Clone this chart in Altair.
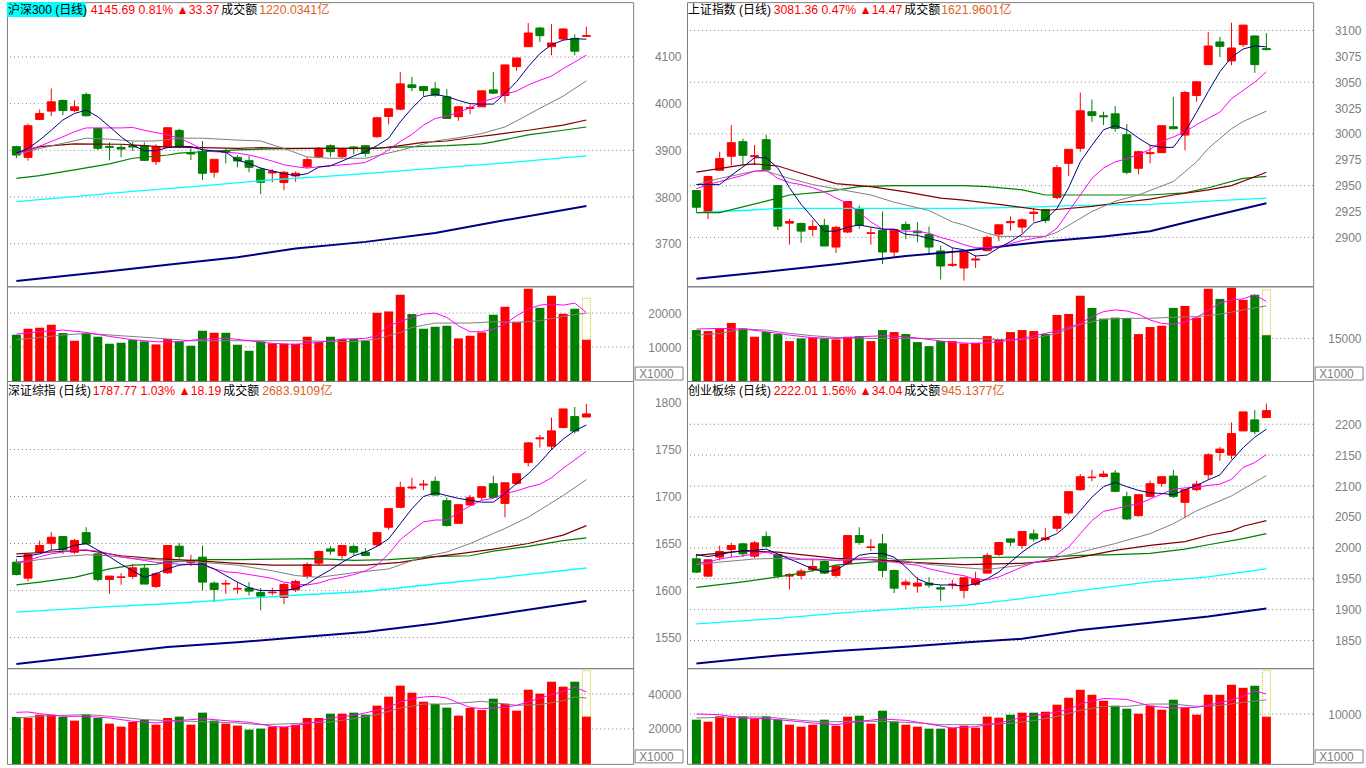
import altair as alt
import pandas as pd

N = 50
IDX = list(range(N))

# ---------------- 沪深300 (top-left) ----------------
hs_open = [3907.8, 3885.0, 3966.2, 3984.0, 4006.7, 3985.4, 4019.6, 3947.0, 3908.5, 3906.4,
           3909.9, 3909.9, 3875.8, 3907.1, 3942.7, 3894.3, 3897.1, 3853.0, 3898.6, 3885.0,
           3877.9, 3859.4, 3851.6, 3831.0, 3845.2, 3865.1, 3886.4, 3909.9, 3886.4, 3907.1,
           3909.9, 3929.2, 3972.6, 3988.2, 4040.2, 4036.6, 4031.6, 4014.6, 3971.9, 3989.7,
           3993.2, 4029.5, 4017.4, 4079.3, 4122.0, 4161.9, 4122.0, 4138.4, 4139.8, 4144.1]
hs_high = [3909.9, 3956.9, 3987.5, 4032.4, 4008.9, 4006.7, 4023.8, 3948.4, 3917.1, 3912.8,
           3918.5, 3917.1, 3912.8, 3948.4, 3946.2, 3904.3, 3919.9, 3880.8, 3904.3, 3890.0,
           3888.6, 3863.7, 3859.4, 3855.9, 3854.4, 3885.7, 3907.1, 3912.8, 3904.3, 3909.2,
           3911.4, 3971.9, 3989.0, 4067.9, 4057.3, 4038.0, 4046.6, 4030.9, 3994.6, 3998.2,
           4027.4, 4067.9, 4082.9, 4097.8, 4172.6, 4164.7, 4170.4, 4161.9, 4148.4, 4164.7]
hs_low = [3882.9, 3877.9, 3966.2, 3973.3, 3975.4, 3981.8, 3972.6, 3900.7, 3878.6, 3885.0,
          3898.6, 3877.2, 3868.7, 3905.7, 3904.3, 3879.3, 3836.6, 3841.6, 3872.2, 3863.7,
          3853.0, 3806.0, 3831.7, 3814.6, 3833.1, 3861.5, 3882.9, 3886.4, 3882.9, 3891.4,
          3886.4, 3927.0, 3955.5, 3985.4, 4026.7, 4015.3, 4014.6, 3966.9, 3963.3, 3977.6,
          3993.2, 4021.0, 4002.5, 4070.1, 4122.0, 4132.0, 4103.5, 4135.6, 4103.5, 4143.4]
hs_close = [3890.0, 3952.6, 3979.0, 4003.9, 3985.4, 3993.2, 3974.0, 3904.3, 3906.4, 3902.8,
            3907.1, 3878.6, 3907.1, 3948.4, 3909.2, 3892.2, 3850.9, 3880.8, 3895.7, 3877.2,
            3863.7, 3831.7, 3854.4, 3853.0, 3850.9, 3880.1, 3904.3, 3897.1, 3902.8, 3903.5,
            3893.6, 3969.7, 3989.0, 4042.3, 4034.5, 4028.1, 4018.1, 3968.3, 3993.2, 3991.8,
            4027.4, 4022.4, 4082.9, 4097.8, 4151.2, 4145.5, 4129.9, 4159.8, 4112.3, 4145.7]
hs_vol = [13627, 15392, 15686, 16569, 14118, 11863, 14118, 13039, 10980, 11274,
          12059, 11667, 10784, 12353, 11667, 10392, 14804, 14216, 14216, 10686,
          8922, 11667, 11078, 10980, 10980, 13039, 11569, 13039, 12353, 12353,
          11863, 20098, 20490, 25392, 19706, 15392, 15980, 16275, 12549, 13333,
          14314, 19510, 21863, 17451, 27157, 21569, 25098, 19804, 21275, 12157]
hs_vol_est = 24400
hs_ma5 = [3894, 3904, 3922, 3943, 3965, 3979, 3986, 3972, 3951, 3929,
          3911, 3899, 3899, 3906, 3909, 3908, 3901, 3899, 3896, 3879,
          3872, 3862, 3856, 3850, 3846, 3850, 3864, 3867, 3877, 3888,
          3897, 3910, 3926, 3961, 3990, 4015, 4020, 4015, 4007, 4000,
          3999, 3999, 4022, 4047, 4079, 4107, 4126, 4136, 4139, 4138]
hs_ma10 = [3894, 3901, 3909, 3919, 3929, 3940, 3948, 3948, 3948, 3948,
           3949, 3943, 3938, 3933, 3926, 3915, 3902, 3897, 3896, 3894,
           3890, 3884, 3877, 3869, 3865, 3862, 3865, 3867, 3869, 3871,
           3874, 3886, 3901, 3919, 3934, 3954, 3968, 3974, 3981, 3991,
           4004, 4011, 4020, 4027, 4040, 4050, 4059, 4075, 4089, 4104]
hs_ma20 = [(0, 3891), (2, 3904), (4, 3915), (6, 3926), (8, 3924), (10, 3920), (12, 3920), (14, 3926),
           (16, 3926), (19, 3922), (21, 3920), (23, 3904), (25, 3886), (27, 3883), (30, 3883),
           (33, 3900), (36, 3920), (38, 3927), (40, 3936), (42, 3950), (43, 3963), (45, 3990),
           (47, 4016), (49, 4049)]
hs_ma30 = [(0, 3894), (2, 3908), (5, 3914), (9, 3913), (11, 3910), (13, 3907), (16, 3906), (19, 3904),
           (21, 3906), (23, 3904), (26, 3904), (31, 3904), (33, 3910), (35, 3917), (37, 3920),
           (39, 3927), (41, 3933), (44, 3943), (47, 3954), (49, 3965)]
hs_ma60 = [(0, 3840), (2, 3846), (5, 3858), (8, 3871), (10, 3883), (13, 3890), (14, 3894), (16, 3897),
           (19, 3901), (22, 3903), (26, 3904), (30, 3904), (33, 3907), (37, 3910), (40, 3914),
           (41, 3918), (44, 3933), (47, 3943), (49, 3950)]
hs_ma120 = [(0, 3790), (5, 3801), (10, 3812), (16, 3824), (22, 3837), (26, 3843), (30, 3850),
            (36, 3862), (41, 3871), (49, 3888)]
hs_ma250 = [(0, 3620), (8, 3641), (13, 3655), (19, 3671), (24, 3690), (30, 3704), (36, 3723),
            (41, 3746), (49, 3781)]
hs_vma5 = [(0, 13824), (2, 14510), (4, 15000), (6, 14314), (8, 13137), (10, 12157), (12, 11569),
           (14, 11569), (16, 12353), (18, 12647), (20, 11863), (22, 11078), (24, 10784), (26, 11373),
           (28, 12353), (30, 12549), (31, 13333), (32, 16275), (34, 18725), (35, 19706), (36, 20000),
           (37, 18725), (38, 16275), (39, 14510), (40, 14510), (41, 15294), (42, 16765), (43, 19216),
           (44, 21176), (45, 22353), (46, 22647), (47, 22353), (48, 22941), (49, 20196)]
hs_vma10 = [(0, 12157), (4, 13529), (6, 14020), (9, 13333), (12, 12647), (15, 11863), (19, 11863),
            (24, 11863), (29, 11569), (31, 12353), (33, 14314), (34, 15784), (36, 17059), (39, 17059),
            (41, 17451), (43, 17255), (45, 17745), (47, 19020), (49, 20000)]

# ---------------- 上证指数 (top-right) ----------------
sh_open = [2945.3, 2924.4, 2964.9, 2978.4, 2992.5, 2978.0, 2994.4, 2950.1, 2913.8, 2913.5,
           2907.7, 2911.6, 2890.7, 2905.2, 2928.0, 2903.9, 2906.8, 2885.9, 2912.5, 2906.1,
           2902.9, 2886.9, 2873.0, 2870.5, 2878.2, 2887.2, 2903.2, 2914.2, 2910.0, 2923.1,
           2927.0, 2938.5, 2971.6, 2986.1, 3021.4, 3017.5, 3019.4, 2999.2, 2966.8, 2980.9,
           2981.9, 3006.9, 2998.9, 3037.1, 3066.9, 3088.8, 3070.5, 3086.2, 3094.6, 3082.4]
sh_high = [2945.9, 2959.7, 2982.8, 3008.5, 2995.4, 2989.3, 2998.9, 2950.1, 2918.0, 2914.2,
           2917.0, 2918.0, 2911.3, 2934.7, 2930.8, 2910.0, 2925.1, 2907.7, 2915.4, 2914.8,
           2910.6, 2892.0, 2889.8, 2885.9, 2882.7, 2901.6, 2912.2, 2920.3, 2918.6, 2928.3,
           2927.0, 2970.0, 2985.1, 3040.0, 3033.2, 3021.4, 3026.8, 3009.5, 2983.8, 2989.3,
           3007.9, 3035.8, 3041.6, 3051.2, 3098.4, 3093.6, 3107.4, 3105.1, 3094.6, 3097.4]
sh_low = [2924.1, 2917.7, 2964.9, 2969.4, 2969.4, 2970.0, 2964.2, 2907.1, 2893.0, 2894.9,
          2901.0, 2891.7, 2884.9, 2904.2, 2908.4, 2893.0, 2874.3, 2881.1, 2898.4, 2895.2,
          2883.3, 2859.3, 2871.5, 2858.3, 2870.5, 2886.5, 2896.2, 2906.4, 2904.2, 2915.4,
          2913.8, 2936.9, 2959.4, 2982.8, 3011.7, 3008.5, 3002.1, 2961.0, 2961.0, 2971.6,
          2981.2, 3004.4, 2984.1, 3031.0, 3066.9, 3074.3, 3066.3, 3084.0, 3058.9, 3080.7]
sh_close = [2929.2, 2958.8, 2976.1, 2991.5, 2979.3, 2979.0, 2965.2, 2910.9, 2915.4, 2906.1,
            2910.6, 2891.7, 2909.7, 2934.7, 2911.6, 2904.5, 2885.9, 2907.7, 2907.7, 2904.5,
            2890.7, 2872.4, 2874.0, 2885.9, 2879.2, 2900.0, 2912.2, 2915.4, 2917.0, 2924.4,
            2916.4, 2967.4, 2985.1, 3022.3, 3017.8, 3016.5, 3005.3, 2962.9, 2982.8, 2981.9,
            3007.9, 3005.0, 3040.0, 3050.3, 3084.9, 3084.6, 3083.0, 3105.1, 3066.9, 3081.4]
sh_vol = [17951, 17597, 18542, 20431, 18542, 15589, 17243, 16534, 14054, 14999,
          15353, 14999, 14644, 15589, 15825, 14054, 17951, 17243, 16534, 13700,
          12282, 14054, 14054, 13227, 13463, 15825, 14763, 17243, 17951, 17597,
          16534, 23266, 23620, 29997, 25746, 21967, 22321, 22203, 16534, 19014,
          19487, 25746, 26454, 22321, 32478, 28935, 32832, 28580, 30352, 16180]
sh_vol_est = 32100
sh_ma5 = [2951, 2951, 2951, 2960, 2968, 2977, 2977, 2967, 2948, 2932,
          2919, 2906, 2906, 2910, 2912, 2910, 2908, 2908, 2903, 2902,
          2899, 2896, 2890, 2888, 2882, 2883, 2890, 2896, 2903, 2914,
          2917, 2928, 2948, 2973, 2989, 3004, 3008, 3004, 2996, 2989,
          2987, 2987, 3002, 3021, 3041, 3060, 3074, 3082, 3085, 3084]
sh_ma10 = [2947, 2951, 2954, 2957, 2960, 2964, 2965, 2957, 2953, 2951,
           2948, 2944, 2938, 2933, 2924, 2915, 2908, 2907, 2906, 2906,
           2904, 2900, 2897, 2893, 2890, 2890, 2891, 2894, 2897, 2899,
           2901, 2909, 2925, 2941, 2957, 2967, 2973, 2976, 2980, 2985,
           2993, 2997, 3002, 3009, 3015, 3021, 3034, 3042, 3050, 3060]
sh_ma20 = [(0, 2951), (2, 2957), (5, 2964), (6, 2964), (8, 2957), (10, 2951), (12, 2947), (15, 2941),
           (17, 2934), (20, 2926), (22, 2915), (23, 2912), (25, 2904), (26, 2901), (28, 2901),
           (30, 2901), (31, 2905), (34, 2925), (36, 2935), (38, 2941), (41, 2954), (43, 2973),
           (44, 2986), (46, 3005), (47, 3012), (49, 3022)]
sh_ma30 = [(0, 2963), (4, 2970), (5, 2971), (7, 2969), (9, 2962), (12, 2952), (15, 2949), (18, 2944),
           (21, 2938), (23, 2936), (26, 2932), (30, 2926), (34, 2930), (36, 2933), (39, 2937),
           (41, 2941), (44, 2946), (46, 2950), (49, 2963)]
sh_ma60 = [(0, 2924), (2, 2924), (7, 2938), (8, 2941), (11, 2944), (14, 2949), (17, 2950), (23, 2950),
           (25, 2949), (28, 2946), (30, 2941), (33, 2941), (39, 2941), (42, 2943), (44, 2948),
           (47, 2957), (49, 2959)]
sh_ma120 = [(0, 2924), (4, 2926), (7, 2928), (12, 2928), (23, 2928), (28, 2929), (33, 2931),
            (39, 2932), (44, 2935), (49, 2938)]
sh_ma250 = [(0, 2860), (7, 2868), (12, 2874), (18, 2882), (23, 2887), (26, 2891), (30, 2896),
            (35, 2901), (39, 2906), (43, 2917), (49, 2933)]
sh_vma5 = [(0, 18306), (2, 18542), (4, 18306), (6, 17361), (8, 16180), (10, 15235), (12, 14999),
           (14, 15589), (16, 15944), (18, 15589), (20, 14644), (22, 13582), (24, 13227), (26, 13818),
           (28, 14999), (30, 16770), (31, 17597), (33, 20313), (34, 22675), (35, 24447), (36, 25037),
           (37, 24683), (38, 23502), (39, 21494), (40, 20313), (41, 19959), (42, 20904), (43, 22321),
           (44, 25037), (45, 27399), (46, 28580), (47, 28935), (48, 30352), (49, 27990)]
sh_vma10 = [(0, 16180), (2, 16770), (4, 18306), (6, 17951), (8, 16770), (10, 15944), (12, 15353),
            (15, 14999), (19, 14999), (24, 14999), (27, 14408), (29, 14999), (31, 16770), (33, 19959),
            (35, 21730), (37, 22085), (39, 22085), (41, 22439), (43, 22675), (45, 23502), (47, 25037),
            (49, 26454)]

# ---------------- 深证综指 (bottom-left) ----------------
sz_open = [1630.2, 1613.2, 1640.8, 1650.3, 1657.4, 1640.8, 1661.6, 1639.0, 1611.8, 1613.9,
           1615.0, 1623.8, 1604.4, 1618.9, 1647.2, 1629.8, 1635.5, 1607.9, 1606.9, 1601.6,
           1602.6, 1598.0, 1597.7, 1592.7, 1600.8, 1615.0, 1629.1, 1644.3, 1637.3, 1646.8,
           1640.8, 1648.6, 1667.3, 1688.5, 1709.0, 1712.2, 1716.1, 1695.6, 1671.5, 1691.0,
           1699.1, 1713.6, 1692.7, 1713.9, 1736.2, 1761.3, 1753.5, 1773.3, 1785.0, 1784.5]
sz_high = [1633.7, 1639.7, 1653.2, 1662.0, 1657.4, 1654.9, 1667.3, 1639.7, 1615.4, 1618.5,
           1628.4, 1627.4, 1619.6, 1647.9, 1650.7, 1638.0, 1647.9, 1609.7, 1611.5, 1609.0,
           1609.0, 1602.6, 1603.0, 1607.9, 1611.5, 1630.2, 1642.6, 1647.2, 1647.9, 1648.9,
           1645.4, 1662.7, 1687.1, 1715.7, 1720.0, 1717.5, 1721.0, 1699.1, 1691.3, 1701.6,
           1710.4, 1722.1, 1714.6, 1724.2, 1758.1, 1765.5, 1783.9, 1793.1, 1795.2, 1798.4]
sz_low = [1616.0, 1609.7, 1640.8, 1642.6, 1639.0, 1639.0, 1649.6, 1609.7, 1596.6, 1606.2,
          1612.5, 1606.9, 1602.6, 1617.8, 1633.7, 1626.0, 1600.2, 1587.8, 1596.6, 1596.6,
          1594.9, 1578.9, 1594.9, 1585.7, 1598.4, 1612.5, 1626.7, 1638.0, 1633.7, 1637.3,
          1637.3, 1646.8, 1664.5, 1687.4, 1706.9, 1706.9, 1700.9, 1668.0, 1670.8, 1690.3,
          1696.3, 1698.4, 1677.9, 1712.2, 1732.0, 1752.1, 1749.3, 1773.3, 1766.9, 1784.5]
sz_close = [1617.1, 1638.3, 1647.9, 1656.7, 1643.3, 1653.2, 1649.6, 1611.8, 1615.4, 1614.6,
            1624.2, 1606.9, 1617.8, 1647.9, 1636.2, 1630.5, 1609.0, 1601.2, 1607.6, 1602.3,
            1599.4, 1594.1, 1598.4, 1606.5, 1609.7, 1627.7, 1641.5, 1641.9, 1647.9, 1640.8,
            1637.3, 1661.6, 1687.1, 1709.7, 1710.1, 1713.2, 1701.6, 1669.1, 1691.3, 1698.8,
            1710.4, 1699.1, 1714.6, 1724.2, 1757.0, 1762.4, 1769.8, 1793.1, 1769.6, 1787.8]
sz_vol = [26861, 26289, 28194, 28194, 26861, 24765, 28194, 26289, 23051, 21336,
          24003, 25337, 22479, 26289, 27051, 22479, 29337, 24765, 23051, 21908,
          19622, 20193, 21336, 21336, 22479, 26289, 26289, 28766, 28766, 29337,
          28194, 33338, 38481, 44768, 40767, 35624, 34290, 32195, 27623, 32004,
          30861, 37338, 34481, 30480, 42482, 40196, 47054, 44196, 47054, 27051]
sz_vol_est = 53300
sz_ma5 = [1636, 1637, 1639, 1643, 1644, 1648, 1650, 1643, 1636, 1628,
          1621, 1614, 1618, 1623, 1627, 1628, 1628, 1623, 1616, 1609,
          1603, 1600, 1600, 1600, 1602, 1607, 1615, 1622, 1630, 1637,
          1641, 1647, 1655, 1671, 1687, 1700, 1704, 1701, 1698, 1696,
          1694, 1694, 1703, 1714, 1724, 1736, 1750, 1761, 1770, 1776]
sz_ma10 = [1630, 1632, 1636, 1639, 1641, 1643, 1643, 1642, 1639, 1636,
           1634, 1632, 1630, 1629, 1628, 1628, 1627, 1623, 1620, 1619,
           1617, 1615, 1613, 1609, 1607, 1606, 1608, 1612, 1614, 1617,
           1621, 1627, 1639, 1654, 1664, 1673, 1675, 1675, 1683, 1690,
           1696, 1698, 1703, 1706, 1710, 1713, 1720, 1730, 1739, 1748]
sz_ma20 = [(0, 1629), (2, 1633), (4, 1636), (6, 1638), (8, 1637), (10, 1634), (13, 1632), (16, 1630),
           (19, 1627), (22, 1621), (24, 1616), (26, 1614), (29, 1619), (32, 1623), (35, 1636),
           (37, 1641), (39, 1650), (42, 1666), (44, 1678), (47, 1701), (49, 1718)]
sz_ma30 = [(0, 1639), (3, 1641), (6, 1643), (9, 1637), (12, 1634), (15, 1632), (19, 1629), (22, 1627),
           (26, 1627), (30, 1627), (33, 1630), (36, 1636), (38, 1639), (41, 1644), (44, 1650),
           (47, 1659), (49, 1669)]
sz_ma60 = [(0, 1606), (2, 1609), (5, 1614), (8, 1623), (10, 1627), (12, 1628), (13, 1630), (15, 1632),
           (16, 1633), (19, 1633), (26, 1634), (29, 1632), (32, 1633), (36, 1636), (39, 1637),
           (41, 1642), (44, 1647), (47, 1653), (49, 1656)]
sz_ma120 = [(0, 1577), (8, 1583), (13, 1586), (19, 1591), (24, 1595), (30, 1599), (36, 1607),
            (41, 1613), (49, 1624)]
sz_ma250 = [(0, 1522), (8, 1533), (13, 1540), (19, 1545), (24, 1550), (30, 1556), (36, 1565),
            (41, 1574), (49, 1589)]
sz_vma5 = [(0, 29528), (1, 29718), (2, 28766), (4, 27242), (6, 27242), (8, 26289), (10, 24384),
           (12, 23432), (13, 24384), (15, 25337), (16, 25908), (18, 24765), (20, 23813), (22, 21527),
           (23, 20955), (24, 21908), (26, 24384), (27, 26289), (29, 27813), (30, 29147), (32, 32385),
           (33, 35433), (34, 37338), (35, 38291), (36, 38672), (37, 37719), (38, 34862), (39, 32385),
           (40, 31623), (41, 32004), (42, 32385), (43, 33528), (44, 35433), (45, 37719), (46, 39624),
           (47, 41529), (48, 44006), (49, 41148)]
sz_vma10 = [(0, 26289), (2, 27242), (4, 27813), (6, 28194), (7, 27813), (9, 26670), (11, 25337),
            (13, 24765), (15, 24384), (19, 23432), (21, 22479), (23, 22860), (25, 23432), (27, 24003),
            (29, 25908), (31, 28194), (33, 32004), (34, 32957), (35, 34290), (37, 34290), (39, 35243),
            (40, 35814), (42, 34290), (43, 33528), (45, 33909), (47, 36195), (48, 38291), (49, 37719)]

# ---------------- 创业板综 (bottom-right) ----------------
cy_open = [1982.3, 1954.3, 1985.0, 1997.3, 2006.5, 1986.6, 2018.3, 1989.3, 1954.3, 1955.4,
           1964.5, 1978.0, 1955.4, 1974.2, 2019.9, 2000.6, 2006.5, 1963.5, 1940.3, 1938.2,
           1943.0, 1935.5, 1940.3, 1931.2, 1940.9, 1959.2, 1989.3, 2014.5, 2003.8, 2022.6,
           2013.5, 2031.7, 2056.5, 2094.1, 2113.5, 2115.6, 2121.0, 2082.8, 2052.2, 2083.3,
           2104.3, 2116.1, 2073.7, 2094.1, 2118.3, 2154.3, 2150.0, 2189.2, 2207.0, 2210.8]
cy_high = [1990.3, 1981.2, 2003.8, 2008.1, 2008.1, 2010.8, 2026.4, 1990.3, 1959.2, 1966.2,
           1982.3, 1979.6, 1972.6, 2019.9, 2033.3, 2014.5, 2022.6, 1964.5, 1948.4, 1952.7,
           1952.7, 1939.8, 1948.4, 1952.7, 1961.3, 1991.9, 2008.6, 2014.5, 2026.4, 2029.6,
           2031.7, 2052.2, 2090.9, 2119.4, 2126.4, 2124.7, 2125.8, 2090.9, 2086.0, 2108.6,
           2115.1, 2126.4, 2094.1, 2108.6, 2153.2, 2163.5, 2202.7, 2219.9, 2223.1, 2233.3]
cy_low = [1959.2, 1952.7, 1979.6, 1985.0, 1985.0, 1983.3, 2001.1, 1951.6, 1932.8, 1948.9,
          1960.8, 1958.1, 1951.6, 1973.1, 2004.9, 1994.6, 1952.7, 1926.9, 1932.3, 1927.4,
          1935.5, 1914.0, 1933.3, 1918.3, 1938.2, 1959.2, 1986.6, 2002.7, 1998.4, 2010.2,
          2010.8, 2026.4, 2053.8, 2092.5, 2107.6, 2114.0, 2091.4, 2045.2, 2050.6, 2081.7,
          2099.0, 2080.7, 2047.9, 2091.4, 2110.2, 2140.9, 2143.5, 2189.2, 2183.3, 2210.8]
cy_close = [1960.8, 1980.7, 1994.1, 2003.8, 1990.3, 2008.1, 2002.7, 1954.3, 1957.0, 1962.4,
            1969.9, 1959.2, 1970.4, 2019.9, 2008.6, 2001.6, 1963.5, 1934.8, 1944.6, 1943.0,
            1939.8, 1933.3, 1941.4, 1951.6, 1950.0, 1987.6, 2008.6, 2009.2, 2026.4, 2014.5,
            2016.1, 2050.6, 2090.9, 2115.1, 2114.5, 2119.4, 2091.4, 2046.8, 2086.0, 2103.8,
            2115.1, 2083.3, 2094.1, 2103.2, 2150.5, 2159.7, 2184.9, 2219.9, 2188.0, 2222.0]
cy_vol = [8867, 8467, 9534, 9267, 9534, 9067, 9534, 8867, 7867, 7467,
          7867, 8867, 7667, 9467, 9667, 8067, 10667, 8534, 7867, 7467,
          7067, 7067, 7267, 7667, 7267, 9467, 9267, 9867, 10267, 10267,
          10467, 11867, 13267, 14867, 13867, 12667, 11667, 11067, 10067, 11667,
          10867, 12867, 11267, 9867, 13867, 13867, 15867, 15267, 15667, 9467]
cy_vol_est = 18700
cy_ma5 = [1989, 1986, 1989, 1993, 1995, 1996, 1998, 1990, 1982, 1974,
          1966, 1961, 1964, 1975, 1988, 1991, 1991, 1985, 1969, 1950,
          1942, 1940, 1940, 1938, 1942, 1950, 1961, 1977, 1993, 2006,
          2015, 2023, 2039, 2060, 2082, 2099, 2106, 2099, 2093, 2089,
          2088, 2086, 2094, 2101, 2110, 2118, 2141, 2162, 2179, 2192]
cy_ma10 = [1975, 1977, 1982, 1985, 1987, 1990, 1993, 1988, 1985, 1982,
           1982, 1981, 1980, 1980, 1981, 1981, 1978, 1977, 1974, 1972,
           1966, 1962, 1958, 1955, 1949, 1948, 1953, 1961, 1969, 1976,
           1980, 1988, 2001, 2023, 2044, 2059, 2063, 2068, 2071, 2079,
           2087, 2095, 2097, 2098, 2101, 2103, 2111, 2130, 2138, 2151]
cy_ma20 = [(0, 1973), (2, 1977), (5, 1982), (7, 1983), (9, 1981), (12, 1980), (15, 1985), (17, 1982),
           (19, 1975), (23, 1968), (25, 1965), (28, 1972), (30, 1980), (33, 1993), (36, 2007),
           (39, 2023), (41, 2039), (43, 2060), (46, 2084), (49, 2117)]
cy_ma30 = [(0, 1988), (4, 1995), (7, 1993), (9, 1989), (12, 1983), (15, 1981), (18, 1977), (23, 1973),
           (28, 1975), (30, 1978), (33, 1985), (36, 1996), (39, 2004), (42, 2010), (44, 2020),
           (46, 2027), (47, 2035), (49, 2044)]
cy_ma60 = [(0, 1936), (4, 1945), (7, 1953), (9, 1959), (12, 1972), (15, 1977), (18, 1981), (23, 1984),
           (28, 1985), (30, 1985), (33, 1988), (36, 1989), (39, 1991), (42, 1998), (44, 2005),
           (47, 2015), (49, 2023)]
cy_ma120 = [(0, 1877), (7, 1886), (12, 1894), (18, 1902), (23, 1907), (28, 1918), (33, 1931),
            (39, 1945), (44, 1953), (49, 1966)]
cy_ma250 = [(0, 1813), (7, 1826), (12, 1833), (18, 1840), (23, 1847), (28, 1853), (33, 1867),
            (39, 1879), (44, 1889), (49, 1902)]
cy_vma5 = [(0, 10000), (2, 9867), (4, 9200), (6, 9067), (8, 8667), (10, 8200), (12, 7867), (14, 8534),
           (16, 9000), (18, 8734), (20, 8000), (22, 7200), (24, 7467), (26, 8200), (28, 9334),
           (30, 10000), (32, 10867), (33, 12001), (35, 13134), (37, 12934), (39, 11601), (41, 11201),
           (43, 11334), (45, 12267), (47, 13467), (48, 14667), (49, 14000)]
cy_vma10 = [(0, 9200), (3, 9400), (6, 9400), (9, 8734), (11, 8400), (13, 8534), (16, 8534), (19, 8200),
            (21, 7867), (24, 7867), (27, 8134), (29, 8667), (31, 9534), (33, 10734), (35, 11534),
            (37, 11534), (39, 12001), (41, 12001), (43, 11534), (45, 11734), (47, 12334), (49, 12867)]

# ---------------- titles ----------------
hs_title = ["沪深300 (日线)", "4145.69 0.81% ▲33.37", "成交额", "1220.0341亿"]
sh_title = ["上证指数 (日线)", "3081.36 0.47% ▲14.47", "成交额", "1621.9601亿"]
sz_title = ["深证综指 (日线)", "1787.77 1.03% ▲18.19", "成交额", "2683.9109亿"]
cy_title = ["创业板综 (日线)", "2222.01 1.56% ▲34.04", "成交额", "945.1377亿"]

# ---------------- axes ----------------
hs_ticks = [3700, 3800, 3900, 4000, 4100]
sh_ticks = [2900, 2925, 2950, 2975, 3000, 3025, 3050, 3075, 3100]
sh_grid = [2900, 2950, 3000, 3050, 3100]
sz_ticks = [1550, 1600, 1650, 1700, 1750, 1800]
sz_grid = [1550, 1600, 1650, 1700, 1750]
cy_ticks = [1850, 1900, 1950, 2000, 2050, 2100, 2150, 2200]
hs_vticks = [10000, 20000]
sh_vticks = [15000]
sz_vticks = [20000, 40000]
cy_vticks = [10000]

for arr in [hs_open, hs_high, hs_low, hs_close, hs_vol, hs_ma5, hs_ma10,
            sh_open, sh_high, sh_low, sh_close, sh_vol, sh_ma5, sh_ma10,
            sz_open, sz_high, sz_low, sz_close, sz_vol, sz_ma5, sz_ma10,
            cy_open, cy_high, cy_low, cy_close, cy_vol, cy_ma5, cy_ma10]:
    assert len(arr) == N, len(arr)

# ---------------- styling ----------------
RED = "#FF0000"
GREEN = "#008000"
NAVY = "#000080"
MAGENTA = "#FF00FF"
GRAY = "#808080"
DARKRED = "#800000"
CYAN = "#00FFFF"
ORANGE = "#E0601C"
W = 628
XS = alt.Scale(domain=[-0.38, 52.59], nice=False, zero=False)
ONE = pd.DataFrame({"k": [0]})
TFONT = "'Liberation Sans', 'Noto Sans CJK SC'"
AFONT = "Liberation Sans"
CSCALE = alt.Scale(domain=["up", "down"], range=[RED, GREEN])


def x_enc():
    return alt.X("i:Q", scale=XS, axis=None)


def y_axis(values):
    return alt.Axis(orient="right", values=values, grid=False, ticks=False, tickSize=0, domain=False,
                    labelColor=GRAY, labelFont=AFONT, labelFontSize=12, labelAlign="right",
                    labelBaseline="middle", labelPadding=48, minExtent=52, maxExtent=52,
                    title=None, format="d", labelOverlap=False, labelFlush=False)


def series_frame(vals):
    if isinstance(vals[0], (tuple, list)):
        return pd.DataFrame({"i": [p[0] for p in vals], "v": [p[1] for p in vals]})
    return pd.DataFrame({"i": IDX, "v": vals})


def text_layer(txt, x, y, color, size=12, font=TFONT):
    return alt.Chart(ONE).mark_text(text=txt, align="left", baseline="middle", font=font,
                                    fontSize=size, color=color).encode(x=alt.value(x), y=alt.value(y))


def candle_panel(o, h, l, c, lines, domain, ticks, grids, title, ty, height, highlight=False):
    ys = alt.Scale(domain=domain, nice=False, zero=False)
    ax = y_axis(ticks)
    dirs = ["up" if cc >= oo else "down" for oo, cc in zip(o, c)]
    df = pd.DataFrame({"i": IDX, "o": o, "h": h, "l": l, "c": c, "dir": dirs})
    layers = [
        alt.Chart(pd.DataFrame({"g": grids})).mark_rule(color=GRAY, strokeDash=[1, 3], strokeWidth=1)
        .encode(y=alt.Y("g:Q", scale=ys, axis=ax)),
        alt.Chart(df).mark_rule(strokeWidth=1)
        .encode(x=x_enc(), y=alt.Y("l:Q", scale=ys, axis=ax), y2="h:Q",
                color=alt.Color("dir:N", scale=CSCALE, legend=None)),
        alt.Chart(df).mark_bar(size=8, strokeWidth=1)
        .encode(x=x_enc(), y=alt.Y("o:Q", scale=ys, axis=ax), y2="c:Q",
                color=alt.Color("dir:N", scale=CSCALE, legend=None),
                stroke=alt.Stroke("dir:N", scale=CSCALE, legend=None)),
    ]
    for vals, col, sw in lines:
        layers.append(alt.Chart(series_frame(vals)).mark_line(color=col, strokeWidth=sw)
                      .encode(x=x_enc(), y=alt.Y("v:Q", scale=ys, axis=ax)))
    if highlight:
        layers.append(alt.Chart(ONE).mark_rect(color=CYAN)
                      .encode(x=alt.value(0), x2=alt.value(79), y=alt.value(ty - 8), y2=alt.value(ty + 7)))
    xs = title[4]
    layers.append(text_layer(title[0], xs[0], ty, "#000000", size=12))
    layers.append(text_layer(title[1], xs[1], ty, RED, size=12.3))
    layers.append(text_layer(title[2], xs[2], ty, "#000000", size=12))
    layers.append(text_layer(title[3], xs[3], ty, ORANGE, size=12.3))
    return alt.layer(*layers).properties(width=W, height=height)


def volume_panel(o, c, vol, est, vma5, vma10, domain, ticks, height):
    ys = alt.Scale(domain=domain, nice=False, zero=False)
    ax = y_axis(ticks)
    dirs = ["up" if cc >= oo else "down" for oo, cc in zip(o, c)]
    df = pd.DataFrame({"i": IDX, "vol": vol, "base": [0] * N, "dir": dirs})
    last = pd.DataFrame({"i": [N - 1], "vol": [vol[-1]], "est": [est]})
    layers = [
        alt.Chart(pd.DataFrame({"g": ticks})).mark_rule(color=GRAY, strokeDash=[1, 3], strokeWidth=1)
        .encode(y=alt.Y("g:Q", scale=ys, axis=ax)),
        alt.Chart(df).mark_bar(size=9)
        .encode(x=x_enc(), y=alt.Y("vol:Q", scale=ys, axis=ax), y2="base:Q",
                color=alt.Color("dir:N", scale=CSCALE, legend=None)),
        alt.Chart(last).mark_bar(size=8, fillOpacity=0, stroke="#C8C800", strokeWidth=1, strokeDash=[1, 1])
        .encode(x=x_enc(), y=alt.Y("vol:Q", scale=ys, axis=ax), y2="est:Q"),
        alt.Chart(series_frame(vma10)).mark_line(color=GRAY, strokeWidth=1)
        .encode(x=x_enc(), y=alt.Y("v:Q", scale=ys, axis=ax)),
        alt.Chart(series_frame(vma5)).mark_line(color=MAGENTA, strokeWidth=1)
        .encode(x=x_enc(), y=alt.Y("v:Q", scale=ys, axis=ax)),
        alt.Chart(ONE).mark_rect(fill="#FFFFFF", stroke=GRAY, strokeWidth=1)
        .encode(x=alt.value(W + 2), x2=alt.value(W + 50), y=alt.value(height - 14), y2=alt.value(height - 1)),
        text_layer("X1000", W + 6, height - 7, GRAY, size=12, font=AFONT),
    ]
    return alt.layer(*layers).properties(width=W, height=height)


def ma_set(m5, m10, m20, m30, m60, m120, m250):
    return [(m250, NAVY, 2), (m120, CYAN, 1.3), (m60, GREEN, 1.2), (m30, DARKRED, 1.2),
            (m20, GRAY, 1), (m10, MAGENTA, 1), (m5, NAVY, 1)]


TOP_H, TOPV_H, BOT_H, BOTV_H = 285, 95, 288, 96

tl = candle_panel(hs_open, hs_high, hs_low, hs_close,
                  ma_set(hs_ma5, hs_ma10, hs_ma20, hs_ma30, hs_ma60, hs_ma120, hs_ma250),
                  [3608.9, 4217.4], hs_ticks, hs_ticks, hs_title + [[1, 84, 215, 253]], 8, TOP_H,
                  highlight=True)
tlv = volume_panel(hs_open, hs_close, hs_vol, hs_vol_est, hs_vma5, hs_vma10, [0, 27900], hs_vticks, TOPV_H)

tr = candle_panel(sh_open, sh_high, sh_low, sh_close,
                  ma_set(sh_ma5, sh_ma10, sh_ma20, sh_ma30, sh_ma60, sh_ma120, sh_ma250),
                  [2852.8, 3127.3], sh_ticks, sh_grid, sh_title + [[1, 87, 218, 255]], 8, TOP_H)
trv = volume_panel(sh_open, sh_close, sh_vol, sh_vol_est, sh_vma5, sh_vma10, [0, 33370], sh_vticks, TOPV_H)

bl = candle_panel(sz_open, sz_high, sz_low, sz_close,
                  ma_set(sz_ma5, sz_ma10, sz_ma20, sz_ma30, sz_ma60, sz_ma120, sz_ma250),
                  [1517.5, 1822.8], sz_ticks, sz_grid, sz_title + [[1, 86, 217, 256]], 10, BOT_H)
blv = volume_panel(sz_open, sz_close, sz_vol, sz_vol_est, sz_vma5, sz_vma10, [0, 54800], sz_vticks, BOTV_H)

br = candle_panel(cy_open, cy_high, cy_low, cy_close,
                  ma_set(cy_ma5, cy_ma10, cy_ma20, cy_ma30, cy_ma60, cy_ma120, cy_ma250),
                  [1805.4, 2269.9], cy_ticks, cy_ticks, cy_title + [[1, 87, 218, 255]], 10, BOT_H)
brv = volume_panel(cy_open, cy_close, cy_vol, cy_vol_est, cy_vma5, cy_vma10, [0, 19200], cy_vticks, BOTV_H)

left = alt.vconcat(tl, tlv, bl, blv, spacing=0, bounds="flush")
right = alt.vconcat(tr, trv, br, brv, spacing=0, bounds="flush")

chart = (alt.hconcat(left, right, spacing=0)
         .properties(padding={"left": 6, "top": 0, "right": 0, "bottom": 0}, background="#FFFFFF")
         .configure_view(stroke=GRAY, strokeWidth=1)
         .configure_concat(spacing=0))

chart.save("out.html", embed_options={"renderer": "svg", "actions": False})
